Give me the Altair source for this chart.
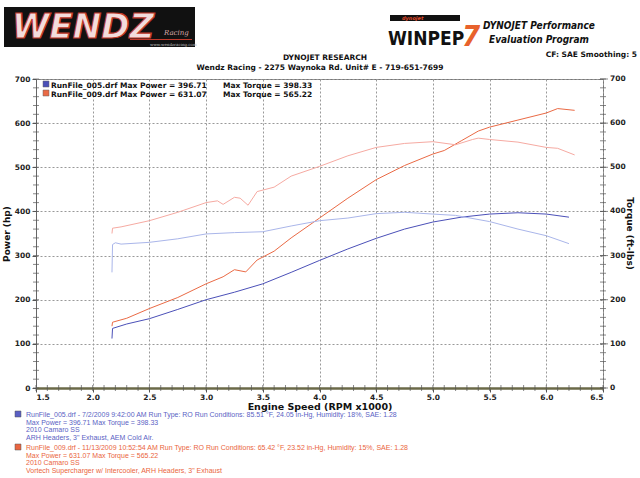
import altair as alt
import pandas as pd

# ---------------- data ----------------
rpm_hp_005 = [2.17, 2.175, 2.3, 2.5, 2.75, 3.0, 3.25, 3.5, 3.75, 4.0, 4.25, 4.5, 4.75, 5.0, 5.25, 5.5, 5.75, 6.0, 6.2]
hp_005 = [112, 135, 145, 157, 178, 200, 217, 236, 262, 289, 315, 339, 360, 376, 387, 394, 397, 394, 387]

rpm_tq_005 = [2.17, 2.175, 2.2, 2.25, 2.5, 2.75, 3.0, 3.25, 3.5, 3.75, 4.0, 4.25, 4.5, 4.75, 5.0, 5.2, 5.5, 5.75, 6.0, 6.2]
tq_005 = [262, 325, 329, 326, 330, 338, 349, 352, 354, 367, 379, 385, 395, 398, 394, 391, 377, 360, 345, 327]

rpm_hp_009 = [2.17, 2.175, 2.3, 2.5, 2.75, 3.0, 3.15, 3.25, 3.35, 3.45, 3.6, 3.75, 4.0, 4.25, 4.5, 4.75, 5.0, 5.1, 5.25, 5.4, 5.5, 5.75, 6.0, 6.1, 6.25]
hp_009 = [140, 149, 158, 180, 205, 236, 252, 268, 263, 290, 310, 340, 385, 430, 472, 504, 530, 538, 560, 582, 591, 607, 623, 633, 629]

rpm_tq_009 = [2.17, 2.175, 2.25, 2.5, 2.75, 3.0, 3.1, 3.15, 3.25, 3.3, 3.37, 3.45, 3.6, 3.75, 4.0, 4.25, 4.5, 4.75, 5.0, 5.2, 5.35, 5.4, 5.5, 5.75, 6.0, 6.1, 6.25]
tq_009 = [350, 362, 365, 379, 398, 420, 424, 416, 432, 430, 414, 445, 455, 480, 502, 526, 545, 554, 558, 551, 563, 566, 563, 557, 545, 543, 528]

series_keys = ["005 hp", "009 hp", "005 tq", "009 tq"]
series_colors = ["#4b50b8", "#ea6a45", "#aab6ea", "#f6aaa2"]

x_minor_ticks = [round(1.5 + 0.1 * i, 1) for i in range(51)]
y_minor_ticks = list(range(0, 701, 20))
y_label_values = [0, 100, 200, 300, 400, 500, 600, 700]

legend_top = [
    "RunFile_005.drf Max Power = 396.71",
    "RunFile_009.drf Max Power = 631.07",
]
legend_top_tq = ["Max Torque = 398.33", "Max Torque = 565.22"]

notes_005 = [
    "RunFile_005.drf - 7/2/2009 9:42:00 AM  Run Type: RO  Run Conditions: 85.51 °F, 24.05 in-Hg,  Humidity:  18%, SAE: 1.28",
    "Max Power = 396.71  Max Torque = 398.33",
    "2010 Camaro SS",
    "ARH Headers, 3\" Exhaust, AEM Cold Air.",
]
notes_009 = [
    "RunFile_009.drf - 11/13/2009 10:52:54 AM  Run Type: RO  Run Conditions: 65.42 °F, 23.52 in-Hg,  Humidity:  15%, SAE: 1.28",
    "Max Power = 631.07  Max Torque = 565.22",
    "2010 Camaro SS",
    "Vortech Supercharger w/ Intercooler, ARH Headers, 3\" Exhaust",
]


def frame(rpm, val, key):
    return pd.DataFrame({"rpm": rpm, "val": val, "key": key})


power_df = pd.concat([frame(rpm_hp_005, hp_005, "005 hp"), frame(rpm_hp_009, hp_009, "009 hp")])
torque_df = pd.concat([frame(rpm_tq_005, tq_005, "005 tq"), frame(rpm_tq_009, tq_009, "009 tq")])

W, H = 567, 309
AX_FONT = "DejaVu Sans"

x_scale = alt.Scale(domain=[1.5, 6.5], nice=False, zero=False)
y_scale = alt.Scale(domain=[0, 700], nice=False, zero=True)

x_axis = alt.Axis(
    tickCount=10,
    format=".1f",
    labelFont=AX_FONT, labelFontWeight="bold", labelFontSize=7.5, labelColor="#222",
    labelPadding=1,
    tickSize=4, tickColor="#555",
    domainColor="#6b6a48", domainWidth=2.5,
    grid=True, gridColor="#999999", gridDash=[2, 2], gridWidth=1,
    title="Engine Speed (RPM x1000)",
    titleFont=AX_FONT, titleFontWeight="bold", titleFontSize=9.5, titleColor="#111",
    titlePadding=1,
)

y_axis = alt.Axis(
    tickCount=7,
    format="d",
    labelFont=AX_FONT, labelFontWeight="bold", labelFontSize=7.5, labelColor="#222",
    labelPadding=2,
    tickSize=4, tickColor="#555",
    domainColor="#666", domainWidth=1,
    grid=True, gridColor="#999999", gridDash=[2, 2], gridWidth=1,
    title="Power (hp)",
    titleFont=AX_FONT, titleFontWeight="bold", titleFontSize=9, titleColor="#111",
    titlePadding=3,
)

x_enc = alt.X("rpm:Q", scale=x_scale, axis=x_axis)
y_enc = alt.Y("val:Q", scale=y_scale, axis=y_axis)

color_enc = alt.Color(
    "key:N",
    scale=alt.Scale(domain=series_keys, range=series_colors),
    legend=None,
)

power_layer = alt.Chart(power_df).mark_line(strokeWidth=1).encode(
    x=x_enc, y=y_enc, color=color_enc, detail="key:N"
)
torque_layer = alt.Chart(torque_df).mark_line(strokeWidth=1).encode(
    x=x_enc, y=y_enc, color=color_enc, detail="key:N"
)

# minor ticks on the axis lines
xminor_layer = alt.Chart(pd.DataFrame({"rpm": x_minor_ticks})).mark_tick(
    color="#555", thickness=1, size=6, orient="vertical"
).encode(x=x_enc, y=alt.value(H))
yminor_df = pd.DataFrame({"val": y_minor_ticks})
yminor_left = alt.Chart(yminor_df).mark_tick(
    color="#555", thickness=1, size=6, orient="horizontal"
).encode(y=y_enc, x=alt.value(0))
yminor_right = alt.Chart(yminor_df).mark_tick(
    color="#555", thickness=1, size=6, orient="horizontal"
).encode(y=y_enc, x=alt.value(W))

# right-hand torque axis (same 0-700 range) drawn on the shared y scale
ylab_df = pd.DataFrame({"val": y_label_values})
ymajor_right = alt.Chart(ylab_df).mark_tick(
    color="#555", thickness=1, size=8, orient="horizontal"
).encode(y=y_enc, x=alt.value(W + 1))
ylabels_right = alt.Chart(ylab_df).mark_text(
    align="left", baseline="middle", font=AX_FONT, fontWeight="bold", fontSize=7.5, color="#222"
).encode(y=y_enc, x=alt.value(W + 7), text=alt.Text("val:Q", format="d"))


def txt(t, x, y, **kw):
    style = dict(align="left", baseline="alphabetic", font=AX_FONT, fontSize=8, color="#111")
    style.update(kw)
    return alt.Chart(pd.DataFrame({"t": [t]})).mark_text(**style).encode(
        x=alt.value(x), y=alt.value(y), text="t:N"
    )


def box(x, x2, y, y2, **kw):
    return alt.Chart(pd.DataFrame({"t": [0]})).mark_rect(**kw).encode(
        x=alt.value(x), x2=alt.value(x2), y=alt.value(y), y2=alt.value(y2)
    )


OX, OY = 36, 79  # plot origin in page pixels

deco = []
deco.append(txt("Torque (ft-lbs)", W + 27, H / 2, align="center", baseline="middle", angle=90,
                fontWeight="bold", fontSize=9))
# WENDZ logo
deco.append(box(4 - OX, 195 - OX, 7 - OY, 47 - OY, color="#111"))
deco.append(txt("WENDZ", 12 - OX, 38 - OY, font="DejaVu Sans", fontWeight="bold", fontStyle="italic",
                fontSize=34, color="#f3dcdc", stroke="#c0392b", strokeWidth=1.2))
deco.append(txt("Racing", 164 - OX, 35 - OY, font="DejaVu Serif", fontStyle="italic", fontSize=7, color="#d9a9a9"))
deco.append(txt("www.wendzracing.com", 150 - OX, 46 - OY, font="DejaVu Serif", fontSize=4, color="#bbbbbb"))
deco.append(box(130 - OX, 192 - OX, 39 - OY, 40 - OY, color="#c0392b"))

# WINPEP logo
deco.append(box(390 - OX, 460 - OX, 15 - OY, 21 - OY, color="#111"))
deco.append(txt("dynojet", 402 - OX, 20 - OY, font="DejaVu Sans", fontWeight="bold", fontStyle="italic",
                fontSize=5, color="#e04a2a"))
deco.append(txt("WINPEP", 388 - OX, 45 - OY, font="DejaVu Sans Condensed", fontWeight="bold",
                fontSize=19, color="#111"))
deco.append(txt("7", 462 - OX, 46 - OY, font="DejaVu Sans Condensed", fontWeight="bold", fontStyle="italic",
                fontSize=29, color="#e8622c"))
deco.append(txt("DYNOJET Performance", 539 - OX, 29 - OY, align="center", font="DejaVu Sans Condensed",
                fontWeight="bold", fontStyle="italic", fontSize=10, color="#111"))
deco.append(txt("Evaluation Program", 539 - OX, 43 - OY, align="center", font="DejaVu Sans Condensed",
                fontWeight="bold", fontStyle="italic", fontSize=10, color="#111"))

# header texts
deco.append(txt("CF: SAE  Smoothing: 5", 637 - OX, 57 - OY, align="right", fontWeight="bold", fontSize=7.5))
deco.append(txt("DYNOJET RESEARCH", 325 - OX, 60 - OY, align="center", fontWeight="bold", fontSize=7.5))
deco.append(txt("Wendz Racing - 2275 Waynoka Rd. Unit# E - 719-651-7699", 320 - OX, 70 - OY,
                align="center", fontWeight="bold", fontSize=7.5))

# top in-plot legend
for i, (a, b) in enumerate(zip(legend_top, legend_top_tq)):
    yy = 88 + 9 * i - OY
    c = series_colors[i]
    deco.append(box(43 - OX, 49 - OX, yy - 7, yy - 1, color=c, stroke="#666", strokeWidth=0.5))
    deco.append(txt(a, 51 - OX, yy, fontWeight="bold", fontSize=7.5))
    deco.append(txt(b, 223 - OX, yy, fontWeight="bold", fontSize=7.5))

# bottom notes
for block, y0, c in ((notes_005, 417, "#5a5fc4"), (notes_009, 450, "#ea6540")):
    deco.append(box(15 - OX, 21 - OX, y0 - 6 - OY, y0 - OY, color=c, stroke="#555", strokeWidth=0.5))
    for j, line in enumerate(block):
        deco.append(txt(line, 26 - OX, y0 + 7.5 * j - OY, font="Liberation Sans", fontSize=7, color=c))

chart = alt.layer(
    power_layer, torque_layer, xminor_layer, yminor_left, yminor_right, ymajor_right, ylabels_right, *deco
).properties(
    width=W,
    height=H,
    autosize=alt.AutoSizeParams(type="none"),
    padding={"left": OX, "top": OY, "right": 640 - OX - W, "bottom": 478 - OY - H},
    background="white",
).configure_view(stroke="#777", strokeWidth=1)

chart.save("out.html", embed_options={"renderer": "svg", "actions": False})
